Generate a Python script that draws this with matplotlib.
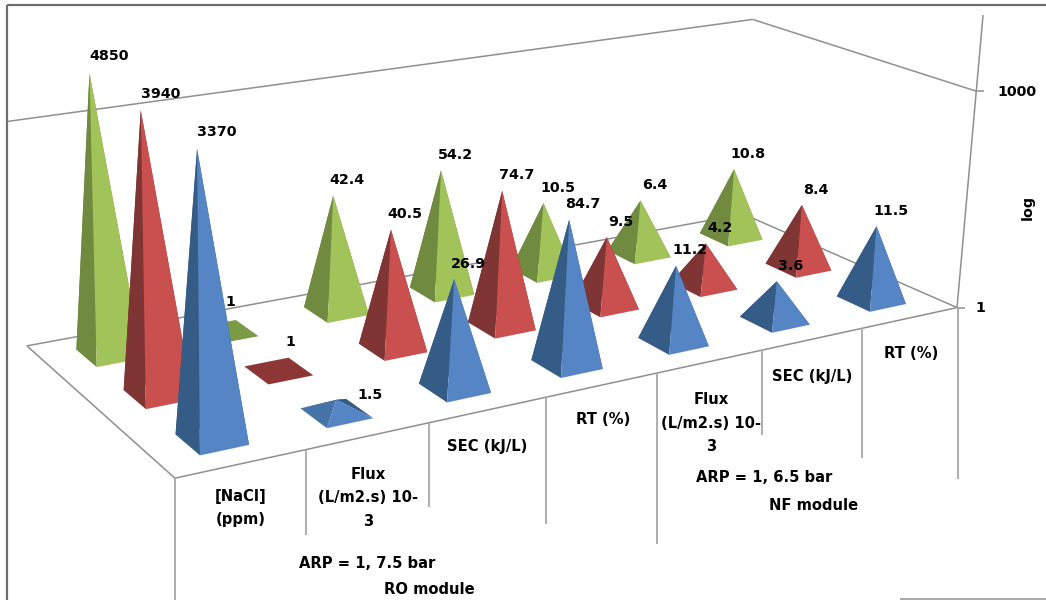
import numpy as np
import matplotlib
matplotlib.use("Agg")
import matplotlib.pyplot as plt
from matplotlib.patches import Polygon

categories = ["[NaCl]\n(ppm)", "Flux\n(L/m2.s) 10-\n3", "SEC (kJ/L)", "RT (%)",
              "Flux\n(L/m2.s) 10-\n3", "SEC (kJ/L)", "RT (%)"]
green_values = [4850, 1, 42.4, 54.2, 10.5, 6.4, 10.8]
red_values = [3940, 1, 40.5, 74.7, 9.5, 4.2, 8.4]
blue_values = [3370, 1.5, 26.9, 84.7, 11.2, 3.6, 11.5]
axis_ticks = [1, 1000]
axis_title = "log"
group_labels = ["ARP = 1, 7.5 bar", "ARP = 1, 6.5 bar"]
module_labels = ["RO module", "NF module"]

# Camera: reference points in the 3D box (category, series, log10 value) -> picture pixels
box = np.array([(0, 0, 0), (7, 0, 0), (0, 3, 0), (7, 3, 0), (0, 3, 3), (7, 3, 3), (7, 0, 3),
                (0.5, 0.5, 3.528), (0.5, 2.5, 3.686), (3.5, 0.5, 1.928), (6.5, 0.5, 1.061),
                (3.5, 2.5, 1.734)], float)
pix = np.array([(175, 478), (958, 307), (27, 346), (742, 214), (8, 120), (754, 20), (975, 90),
                (197, 150), (89, 73), (569, 220), (877, 227), (441, 171)], float)
A = []
for (X, Y, Z), (u, v) in zip(box, pix):
    A.append([X, Y, Z, 1, 0, 0, 0, 0, -u*X, -u*Y, -u*Z, -u])
    A.append([0, 0, 0, 0, X, Y, Z, 1, -v*X, -v*Y, -v*Z, -v])
P = np.linalg.svd(np.array(A))[2][-1].reshape(3, 4)


def proj(x, y, z):
    h = P @ np.array([x, y, z, 1.0])
    return h[0] / h[2], h[1] / h[2]


GRAY = "#8f8f8f"
TICK = "#a8a8a8"
FS = 10.3
FS_CAT = 10.6
fig = plt.figure(figsize=(10.46, 6), dpi=100)
ax = fig.add_axes([0, 0, 1, 1])
ax.set_xlim(0, 1046)
ax.set_ylim(600, 0)
ax.axis("off")


def line(a, b, color=GRAY, lw=1.1, z=1):
    ax.plot([a[0], b[0]], [a[1], b[1]], color=color, lw=lw, zorder=z, solid_capstyle="butt")


# picture frame
line((7, 5), (1046, 5), "#6e6e6e", 1.6)
line((7, 5), (7, 600), "#6e6e6e", 1.6)
line((900, 599), (1046, 599), "#9a9a9a", 1.2)

# box edges
line(proj(0, 0, 0), proj(7, 0, 0))
line(proj(0, 0, 0), proj(0, 3, 0))
line(proj(0, 3, 0), proj(7, 3, 0))
line(proj(7, 3, 0), proj(7, 0, 0))
line(proj(0, 3, 3), proj(7, 3, 3))
line(proj(7, 3, 3), proj(7, 0, 3))
line(proj(7, 0, 0), proj(7, 0, 4))

# value axis
tick_label_dx = [23, 41]
for t, dx in zip(axis_ticks, tick_label_dx):
    a = proj(7, 0, np.log10(t))
    line(a, (a[0] + 8, a[1]))
    ax.text(a[0] + dx, a[1] + 0.5, str(t), ha="center", va="center",
            fontsize=FS, fontweight="bold", color="black")
ax.text(1028, 207, axis_title, rotation=90, ha="center", va="center", fontsize=FS, fontweight="bold")

# category ticks and labels
tick_len = [122, 85, 84, 127, 171, 85, 130, 171]
for i, ln in enumerate(tick_len):
    a = proj(i, 0, 0)
    line((a[0] + 0.5, a[1]), (a[0] + 0.5, a[1] + ln), TICK, 1.3)
label_pos = [(241, 508), (368, 498), (487, 447), (603, 419), (711, 423), (812, 377), (911, 353)]
for c, p in zip(categories, label_pos):
    ax.text(*p, c, ha="center", va="center", fontsize=FS_CAT, fontweight="bold", linespacing=1.72)
for s, m, gp, mp in zip(group_labels, module_labels, [(367, 564), (764, 478)], [(429, 589), (814, 506)]):
    ax.text(*gp, s, ha="center", va="center", fontsize=FS_CAT, fontweight="bold")
    ax.text(*mp, m, ha="center", va="center", fontsize=FS_CAT, fontweight="bold")

# pyramids
series = [  # back to front
    (2.5, green_values, "#a2c25a", "#708a3f", "#7a9a46"),
    (1.5, red_values, "#c9504f", "#803535", "#8c3636"),
    (0.5, blue_values, "#5585c5", "#355c86", "#4673a8"),
]
HX, HY = 0.19, 0.22
offsets = {(2.5, 0): (20, -17), (1.5, 0): (20, -16), (0.5, 0): (20, -17), (2.5, 1): (5, -30),
           (1.5, 1): (12, -29), (0.5, 1): (34, -5)}
zo = 10
for yc, vals, light, dark, flat in series:
    for i in range(len(vals) - 1, -1, -1):
        v = vals[i]
        xc = i + 0.5
        h = np.log10(v)
        apex = proj(xc, yc, h)
        fl = proj(xc - HX, yc - HY, 0)  # front corner
        fr = proj(xc + HX, yc - HY, 0)  # right corner
        bl = proj(xc - HX, yc + HY, 0)  # left corner
        br = proj(xc + HX, yc + HY, 0)  # back corner
        if h == 0:
            ax.add_patch(Polygon([fl, fr, br, bl], closed=True, fc=flat, ec="none", zorder=zo))
        else:
            left = flat if h < 0.3 else dark
            ax.add_patch(Polygon([apex, br, fr], closed=True, fc=dark, ec="none", zorder=zo))
            ax.add_patch(Polygon([apex, bl, br], closed=True, fc=dark, ec="none", zorder=zo))
            ax.add_patch(Polygon([apex, bl, fl], closed=True, fc=left, ec="none", zorder=zo + 1))
            ax.add_patch(Polygon([apex, fl, fr], closed=True, fc=light, ec="none", zorder=zo + 1))
        zo += 2
        dx, dy = offsets.get((yc, i), (14, -15.5))
        ax.text(apex[0] + dx, apex[1] + dy, f"{v:g}", ha="center", va="center", fontsize=FS,
                fontweight="bold", color="black", zorder=500)

fig.savefig("out.png", dpi=100, facecolor="white")
